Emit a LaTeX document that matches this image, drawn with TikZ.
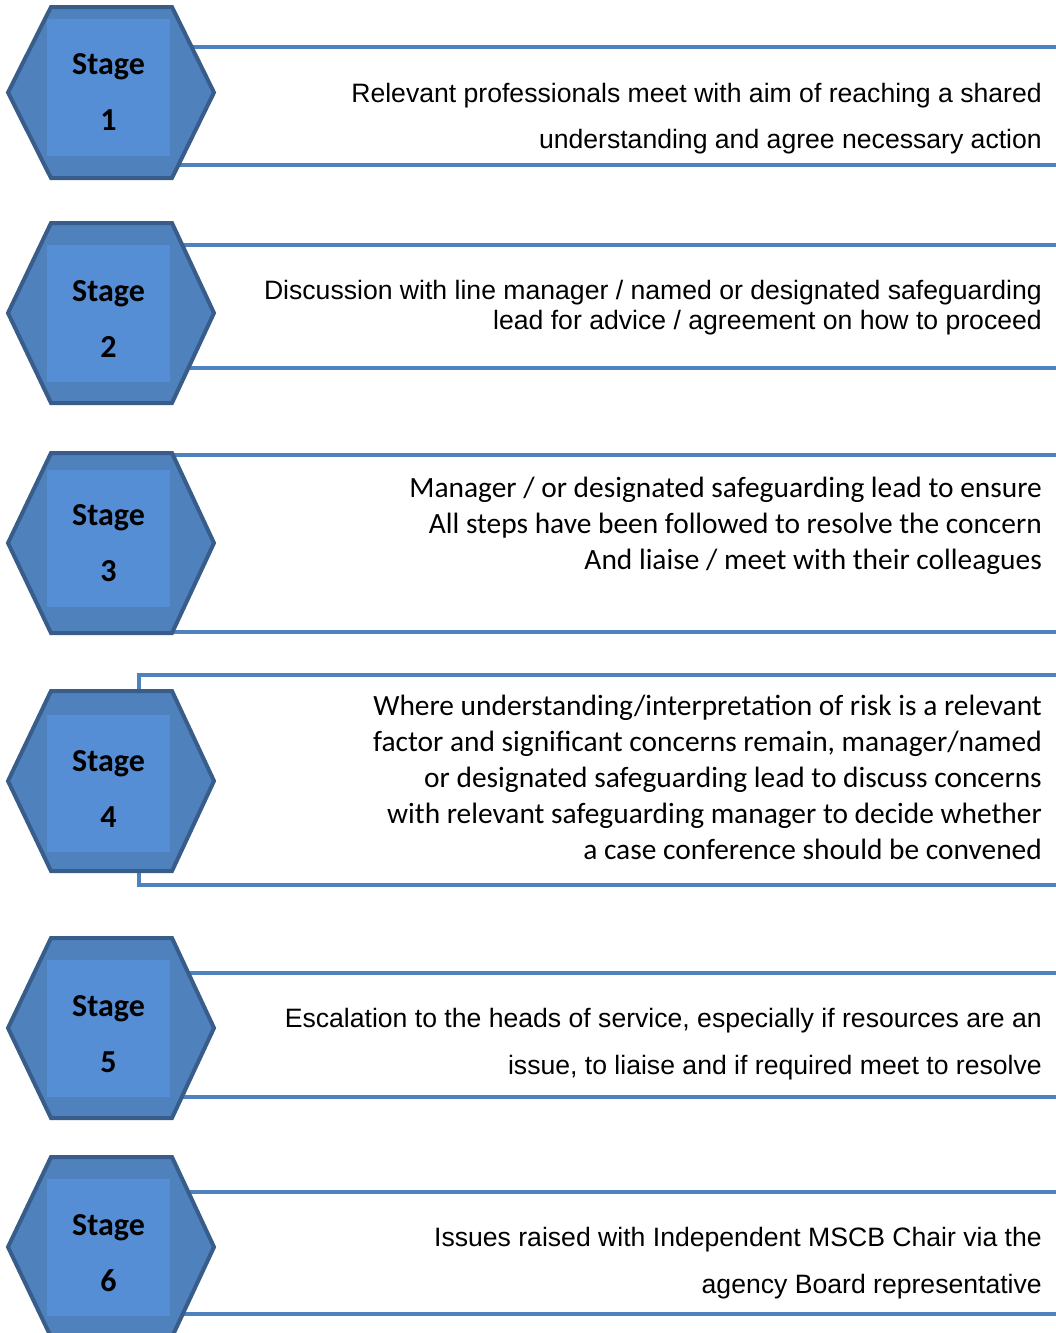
\documentclass[tikz,border=0pt]{standalone}
\usepackage{fontspec}
\setmainfont{Liberation Sans}
\newfontfamily\calibri{Carlito}
\usetikzlibrary{positioning}
\definecolor{hexline}{RGB}{56,93,138}
\definecolor{hexfill}{RGB}{79,129,189}
\definecolor{hexcore}{RGB}{85,142,213}
\definecolor{boxline}{RGB}{79,129,189}
\tikzset{
    hexside/.style = {draw=hexline,line width=4pt,fill=hexfill,line join=miter},
    hexcore/.style = {fill=hexcore},
    stagebox/.style = {draw=boxline,line width=4.5pt},
    stagelbl/.style = {font=\calibri\bfseries\fontsize{32}{56}\selectfont,align=center,anchor=base,inner sep=0}
}
\tikzset{
    arialtxt/.style = {font=\fontsize{26.6}{#1}\selectfont,align=right,anchor=base east,inner sep=0},
    calibtxt/.style = {font=\calibri\fontsize{29.4}{36}\selectfont,align=right,anchor=base east,inner sep=0}
}

\begin{document}
\begin{tikzpicture}[x=1pt,y=-1pt]
        \useasboundingbox (0,0) rectangle (1056,1333);
        \clip (0,0) rectangle (1056,1333);
        % Boxes, running off the right edge
        \foreach \n/\top/\bot in {1/47/165,2/245/368,3/455/632,4/675/885,5/973/1097,6/1192/1314}
            \draw[stagebox] (139,\top) rectangle (1075,\bot);
        % Hexagons
        \foreach \n/\mid/\hh/\core in {1/92.5/85.5/19,2/313/90/245,3/543/90/470,4/781/90/715,5/1028/90/960,6/1247/90/1179}
        {
            \draw[hexside] (8,\mid) -- (51,\mid-\hh) -- (172,\mid-\hh)
                -- (214,\mid) -- (172,\mid+\hh) -- (51,\mid+\hh) -- cycle;
            \fill[hexcore] (47,\core) rectangle (170,\core+137);
        }
        % Stage labels (base = last line)
        \foreach \n/\mid in {1/92.5,2/319.5,3/543.5,4/789.5,5/1034.5,6/1253.5}
            \node[stagelbl] (stage\n) at (108.5,\mid+37.5) {Stage\\\n};
        % Notes (base = last line)
        \node[arialtxt=46] (note1) at (1042,148)
            {Relevant professionals meet with aim of reaching a shared\\understanding and agree necessary action};
        \node[arialtxt=30] (note2) at (1042,329)
            {Discussion with line manager / named or designated safeguarding\\lead for advice / agreement on how to proceed};
        \node[calibtxt] (note3) at (1042,569)
            {Manager / or designated safeguarding lead to ensure\\All steps have been followed to resolve the concern\\And liaise / meet with their colleagues};
        \node[calibtxt] (note4) at (1042,859)
            {Where understanding/interpretation of risk is a relevant\\factor and significant concerns remain, manager/named\\or designated safeguarding lead to discuss concerns\\with relevant safeguarding manager to decide whether\\a case conference should be convened};
        \node[arialtxt=47] (note5) at (1042,1074)
            {Escalation to the heads of service, especially if resources are an\\issue, to liaise and if required meet to resolve};
        \node[arialtxt=47] (note6) at (1042,1293)
            {Issues raised with Independent MSCB Chair via the\\agency Board representative};
\end{tikzpicture}
\end{document}
